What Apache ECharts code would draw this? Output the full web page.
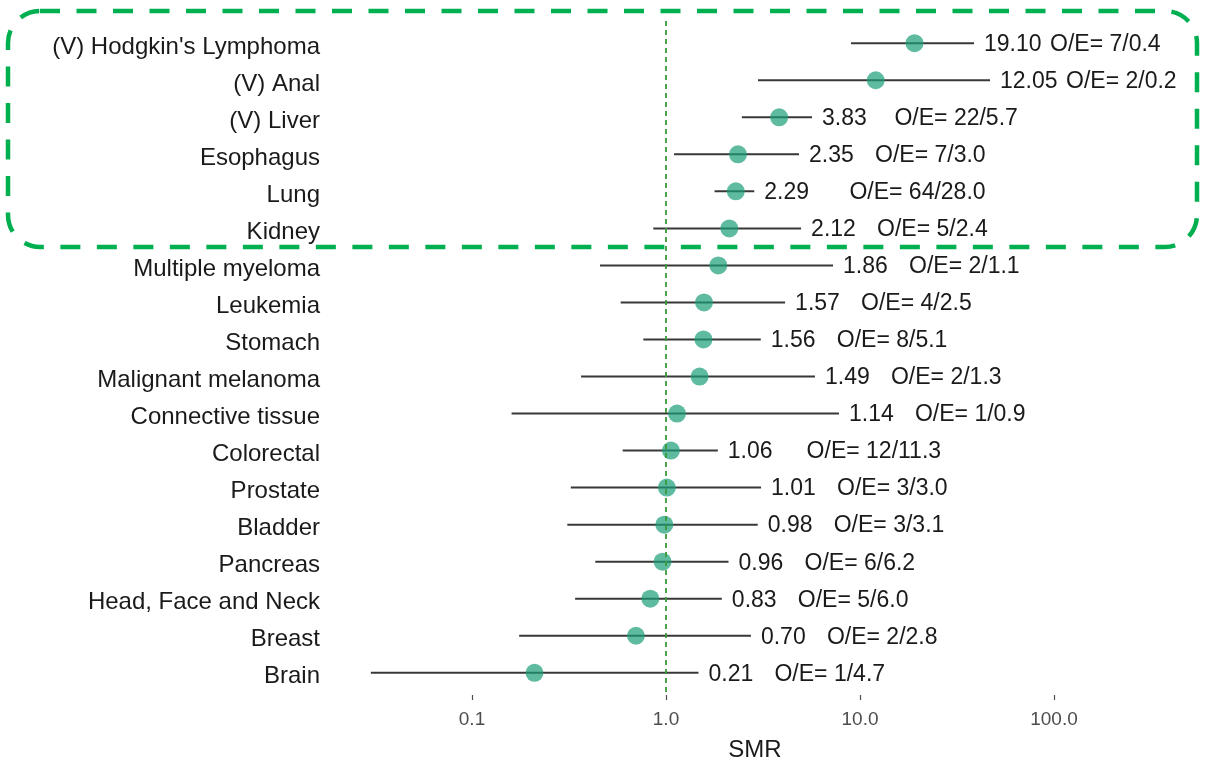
<!DOCTYPE html>
<html><head><meta charset="utf-8">
<script src="https://cdn.jsdelivr.net/npm/echarts@6.0.0/dist/echarts.min.js"></script>
<style>html,body{margin:0;padding:0;background:#fff}#chart{width:1206px;height:762px}</style>
</head><body><div id="chart"></div>
<script>
const categories = ["(V) Hodgkin's Lymphoma","(V) Anal","(V) Liver","Esophagus","Lung","Kidney","Multiple myeloma","Leukemia","Stomach","Malignant melanoma","Connective tissue","Colorectal","Prostate","Bladder","Pancreas","Head, Face and Neck","Breast","Brain"];
const smr     = [19.10, 12.05, 3.83, 2.35, 2.29, 2.12, 1.86, 1.57, 1.56, 1.49, 1.14, 1.06, 1.01, 0.98, 0.96, 0.83, 0.70, 0.21];
const ciLower = [8.99, 2.98, 2.46, 1.10, 1.78, 0.86, 0.457, 0.584, 0.764, 0.365, 0.160, 0.598, 0.323, 0.310, 0.432, 0.340, 0.175, 0.0301];
const ciUpper = [38.7, 46.8, 5.66, 4.85, 2.85, 4.97, 7.26, 4.11, 3.08, 5.86, 7.79, 1.85, 3.09, 2.97, 2.10, 1.94, 2.74, 1.47];
const oeLabels = ["O/E= 7/0.4","O/E= 2/0.2"," O/E= 22/5.7","O/E= 7/3.0","   O/E= 64/28.0","O/E= 5/2.4","O/E= 2/1.1","O/E= 4/2.5","O/E= 8/5.1","O/E= 2/1.3","O/E= 1/0.9","  O/E= 12/11.3","O/E= 3/3.0","O/E= 3/3.1","O/E= 6/6.2","O/E= 5/6.0","O/E= 2/2.8","O/E= 1/4.7"];
const xTicks = [0.1, 1, 10, 100];
const xTickLabels = ["0.1", "1.0", "10.0", "100.0"];
const xAxisName = "SMR";

const FONT = '"Liberation Sans", Arial, Helvetica, sans-serif';
const rows = categories.map((c, i) => i);
const smrLabels = smr.map(v => v.toFixed(2));
const LABEL_NUDGE = 0.11; // category label baseline sits slightly below the row line

const chart = echarts.init(document.getElementById('chart'), null, {renderer: 'canvas'});
const option = {
  animation: false,
  backgroundColor: '#ffffff',
  grid: {left: 330, right: 26, top: 21, bottom: 67, containLabel: false, outerBoundsMode: 'none'},
  xAxis: {
    type: 'log', logBase: 10,
    min: Math.pow(10, -336 / 194), max: Math.pow(10, 514 / 194),
    name: xAxisName, nameLocation: 'middle', nameGap: 43,
    nameTextStyle: {fontSize: 24, color: '#1a1a1a', fontFamily: FONT},
    axisLine: {show: false, onZero: false}, splitLine: {show: false}, minorSplitLine: {show: false},
    axisTick: {show: true, length: 5, customValues: xTicks, lineStyle: {color: '#4d4d4d', width: 1.2}},
    axisLabel: {
      customValues: xTicks, margin: 15, fontSize: 19, color: '#4d4d4d', fontFamily: FONT,
      formatter: v => {
        let best = 0;
        xTicks.forEach((t, k) => { if (Math.abs(Math.log10(t) - Math.log10(v)) < Math.abs(Math.log10(xTicks[best]) - Math.log10(v))) best = k; });
        return xTickLabels[best];
      }
    }
  },
  yAxis: {
    type: 'value', inverse: true, min: -0.6, max: 17.6,
    axisLine: {show: false, onZero: false}, axisTick: {show: false}, splitLine: {show: false},
    axisLabel: {customValues: rows.map(i => i + LABEL_NUDGE), margin: 10, fontSize: 24, color: '#1a1a1a', fontFamily: FONT,
      formatter: v => categories[Math.round(v)]}
  },
  series: [
    {
      type: 'custom',
      data: rows.map(i => [ciLower[i], ciUpper[i], i]),
      encode: {x: [0, 1], y: 2},
      z: 2,
      renderItem: (params, api) => {
        const i = api.value(2);
        const a = api.coord([api.value(0), i]);
        const b = api.coord([api.value(1), i]);
        return {type: 'group', children: [
          {type: 'line', shape: {x1: a[0], y1: a[1], x2: b[0], y2: b[1]}, style: {stroke: '#383838', lineWidth: 2}},
          {type: 'text', x: b[0] + 10, y: b[1] + 1.5, style: {text: smrLabels[i], fontSize: 23, fontFamily: FONT, fill: '#1a1a1a', verticalAlign: 'middle', align: 'left'}},
          {type: 'text', x: b[0] + 76, y: b[1] + 1.5, style: {text: oeLabels[i], fontSize: 23, fontFamily: FONT, fill: '#1a1a1a', verticalAlign: 'middle', align: 'left'}}
        ]};
      }
    },
    {
      type: 'scatter',
      data: rows.map(i => [smr[i], i]),
      symbol: 'circle', symbolSize: 18, z: 3,
      itemStyle: {color: '#1b9e77', opacity: 0.7},
      markLine: {
        silent: true, symbol: 'none', animation: false,
        label: {show: false},
        lineStyle: {color: '#3a9a3a', type: [5, 4], width: 1.8},
        data: [{xAxis: 1}]
      }
    }
  ],
  graphic: [{
    type: 'rect', z: 100, silent: true,
    shape: {x: 8, y: 11, width: 1189, height: 236, r: 32},
    style: {fill: null, stroke: '#00b050', lineWidth: 4.5, lineDash: [20, 16.5]}
  }]
};
chart.setOption(option);
</script>
</body></html>
